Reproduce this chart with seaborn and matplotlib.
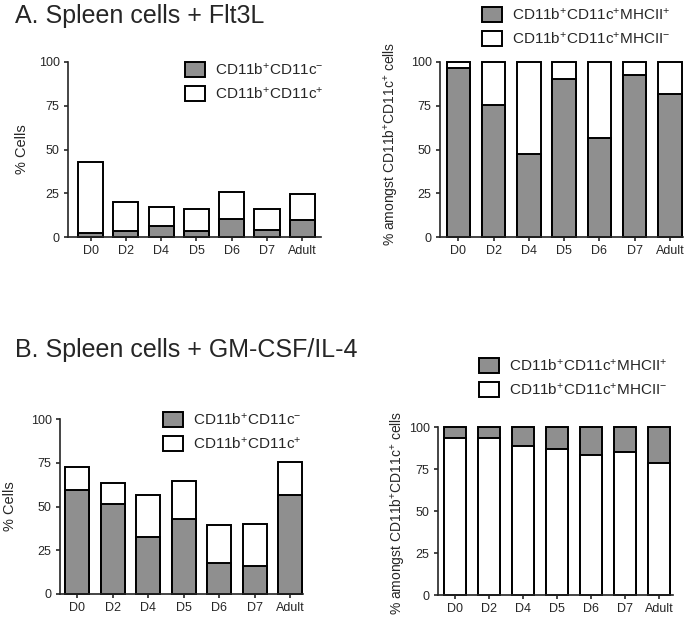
import matplotlib
matplotlib.use('Agg')
import matplotlib.pyplot as plt
from matplotlib.patches import Patch
import seaborn as sns

# values (percent)
days = ['D0', 'D2', 'D4', 'D5', 'D6', 'D7', 'Adult']

# A. Flt3L, % cells
flt3l_cd11c_neg = [2.5, 3.2, 6.5, 3.6, 10.5, 3.8, 9.7]
flt3l_cd11c_pos = [40.6, 16.6, 10.5, 12.2, 15.3, 12.4, 15.1]
# A. Flt3L, % amongst CD11b+CD11c+
flt3l_mhcii_pos = [96.4, 75.6, 47.5, 90.1, 56.3, 92.6, 81.5]
flt3l_mhcii_neg = [3.6, 24.4, 52.5, 9.9, 43.7, 7.4, 18.5]

# B. GM-CSF/IL-4, % cells
gm_cd11c_neg = [59.7, 51.7, 32.4, 42.9, 17.9, 15.8, 56.7]
gm_cd11c_pos = [13.0, 11.8, 24.3, 21.4, 21.6, 24.3, 18.5]
# B. GM-CSF/IL-4, % amongst CD11b+CD11c+
gm_mhcii_neg = [93.4, 93.6, 88.8, 87.2, 83.2, 85.0, 78.4]
gm_mhcii_pos = [6.6, 6.4, 11.2, 12.8, 16.8, 15.0, 21.6]

GRAY = '#8f8f8f'

sns.set_style('ticks')
plt.rcParams['font.family'] = ['Liberation Sans', 'DejaVu Sans']
plt.rcParams['mathtext.fontset'] = 'custom'
plt.rcParams['mathtext.rm'] = 'Liberation Sans'
plt.rcParams['mathtext.it'] = 'Liberation Sans'
plt.rcParams['mathtext.default'] = 'regular'

W, H = 692, 618
fig = plt.figure(figsize=(W / 100, H / 100), dpi=100)


def px_axes(x0, x1, y0, y1):
    # axes from pixel box (left, right, top, bottom)
    return fig.add_axes([x0 / W, 1 - y1 / H, (x1 - x0) / W, (y1 - y0) / H])


def stacked(ax, bottom, top, bottom_color, top_color, width, xlim):
    totals = [b + t for b, t in zip(bottom, top)]
    sns.barplot(x=days, y=totals, color=top_color, edgecolor='black', linewidth=1.4,
                width=width, saturation=1, errorbar=None, ax=ax)
    sns.barplot(x=days, y=bottom, color=bottom_color, edgecolor='black', linewidth=1.4,
                width=width, saturation=1, errorbar=None, ax=ax)
    for p in ax.patches:
        p.set_clip_on(False)
    ax.set_xlim(*xlim)
    ax.set_ylim(0, 100)
    ax.set_yticks([0, 25, 50, 75, 100])
    ax.set_xlabel('')
    sns.despine(ax=ax)
    for s in ['left', 'bottom']:
        ax.spines[s].set_linewidth(1.2)
    ax.tick_params(labelsize=9, length=3, width=1.2, pad=3)


def legend(labels, colors, x, y):
    handles = [Patch(facecolor=c, edgecolor='black', linewidth=1.4) for c in colors]
    fig.legend(handles, labels, loc='upper left', bbox_to_anchor=(x / W, 1 - y / H),
               frameon=False, fontsize=11, handlelength=1.3, handleheight=1.1,
               labelspacing=0.5, handletextpad=0.65, borderpad=0, borderaxespad=0)


lab_neg = r'CD11b$^{+}$CD11c$^{-}$'
lab_pos = r'CD11b$^{+}$CD11c$^{+}$'
lab_mhc_pos = r'CD11b$^{+}$CD11c$^{+}$MHCII$^{+}$'
lab_mhc_neg = r'CD11b$^{+}$CD11c$^{+}$MHCII$^{-}$'
ylab_pct = r'% amongst CD11b$^{+}$CD11c$^{+}$ cells'

# A left
ax1 = px_axes(68, 321, 62, 237)
stacked(ax1, flt3l_cd11c_neg, flt3l_cd11c_pos, GRAY, 'white', 0.71, (-0.64, 6.53))
ax1.set_ylabel('% Cells', fontsize=10.5, va='center')
ax1.yaxis.set_label_coords((22 - 68) / 253, 0.5)
legend([lab_neg, lab_pos], [GRAY, 'white'], 185, 62)

# A right
ax2 = px_axes(440, 683, 62, 237)
stacked(ax2, flt3l_mhcii_pos, flt3l_mhcii_neg, GRAY, 'white', 0.67, (-0.52, 6.37))
ax2.set_ylabel(ylab_pct, fontsize=10, va='center')
ax2.yaxis.set_label_coords((392 - 440) / 243, 0.53)
legend([lab_mhc_pos, lab_mhc_neg], [GRAY, 'white'], 482, 7)

# B left
ax3 = px_axes(60, 303, 419, 594)
stacked(ax3, gm_cd11c_neg, gm_cd11c_pos, GRAY, 'white', 0.68, (-0.49, 6.36))
ax3.set_ylabel('% Cells', fontsize=10.5, va='center')
ax3.yaxis.set_label_coords((10 - 60) / 243, 0.5)
legend([lab_neg, lab_pos], [GRAY, 'white'], 163, 412)

# B right
ax4 = px_axes(438, 673, 427, 595)
stacked(ax4, gm_mhcii_neg, gm_mhcii_pos, 'white', GRAY, 0.66, (-0.5, 6.41))
ax4.set_ylabel(ylab_pct, fontsize=10, va='center')
ax4.yaxis.set_label_coords((399 - 438) / 235, 0.49)
legend([lab_mhc_pos, lab_mhc_neg], [GRAY, 'white'], 479, 358)

fig.text(15 / W, 1 - 23 / H, 'A. Spleen cells + Flt3L', fontsize=18, va='baseline')
fig.text(15 / W, 1 - 357 / H, 'B. Spleen cells + GM-CSF/IL-4', fontsize=18, va='baseline')

fig.savefig('out.png', dpi=100)
